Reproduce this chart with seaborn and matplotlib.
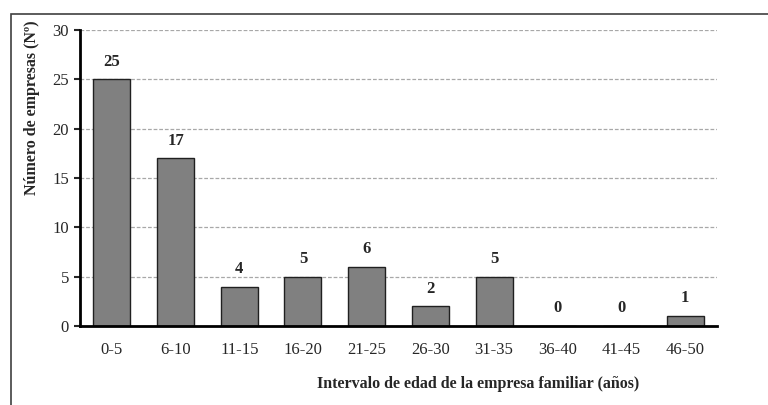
import matplotlib
matplotlib.use("Agg")
import matplotlib.pyplot as plt
import seaborn as sns
import pandas as pd
from matplotlib.patches import Rectangle

# Data
intervalos = ['0-5', '6-10', '11-15', '16-20', '21-25', '26-30', '31-35', '36-40', '41-45', '46-50']
empresas = [25, 17, 4, 5, 6, 2, 5, 0, 0, 1]

df = pd.DataFrame({'intervalo': intervalos, 'empresas': empresas})

sns.set_style("white")
plt.rcParams['font.family'] = ['Liberation Serif', 'DejaVu Serif']

fig = plt.figure(figsize=(7.68, 4.05), dpi=100)
ax = fig.add_axes([80 / 768, 1 - 326 / 405, 637 / 768, 296 / 405])

sns.barplot(x='intervalo', y='empresas', data=df, color='#808080', width=0.58,
            edgecolor='#202020', linewidth=1, saturation=1, ax=ax)

ax.set_ylim(0, 30)
ax.set_xlim(-0.5, 9.5)
ax.set_yticks(range(0, 31, 5))
ax.yaxis.grid(True, linestyle=(0, (3, 1.5)), color='#a8a8a8', linewidth=0.9)
ax.set_axisbelow(True)

for s in ['top', 'right']:
    ax.spines[s].set_visible(False)
for s in ['left', 'bottom']:
    ax.spines[s].set_color('black')
    ax.spines[s].set_linewidth(2)

ax.tick_params(axis='y', which='both', left=True, length=4, width=1.5, labelsize=12, pad=4)
ax.tick_params(axis='x', bottom=False, labelsize=12, pad=8)
ax.set_xlabel('')
ax.set_ylabel('')

for i, v in enumerate(empresas):
    ax.annotate(str(v), (i, v), xytext=(0, 7), textcoords='offset points',
                ha='center', va='bottom', fontsize=12, fontweight='bold')

fig.text(32 / 768, 1 - 108 / 405, 'Número de empresas (Nº)', rotation=90,
         ha='center', va='center', fontsize=11.5, fontweight='bold')
fig.text(478 / 768, 1 - 384 / 405, 'Intervalo de edad de la empresa familiar (años)',
         ha='center', va='center', fontsize=11.5, fontweight='bold')

# outer frame (cut off at the right and bottom like the original)
fig.patches.append(Rectangle((11 / 768, -0.1), 1.1, 1 - 14 / 405 + 0.1,
                             transform=fig.transFigure, fill=False,
                             edgecolor='#404040', linewidth=1.2))

fig.savefig('out.png', dpi=100)
